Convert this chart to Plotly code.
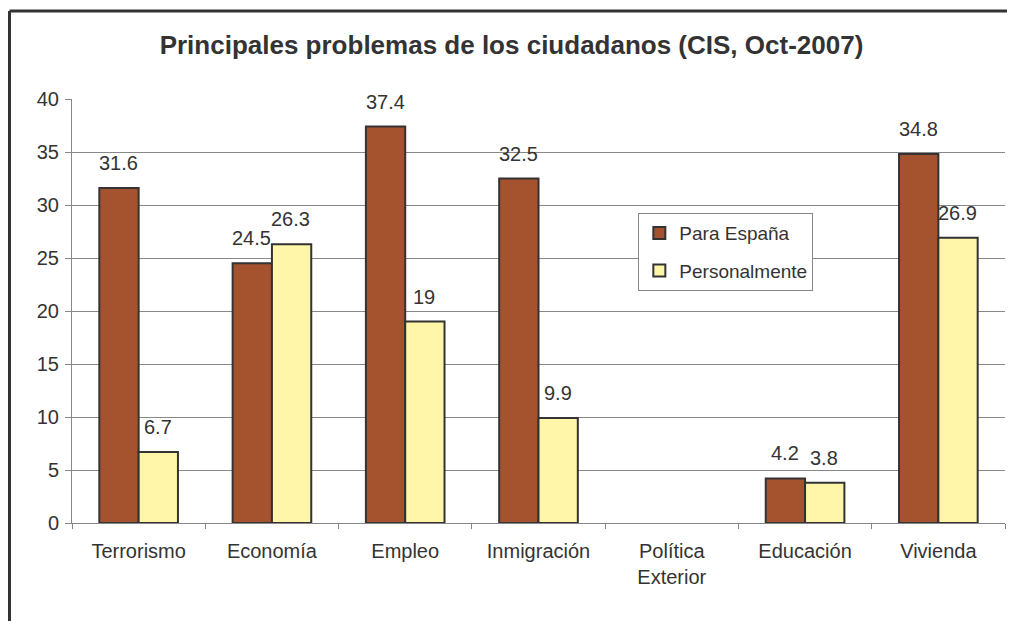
import plotly.graph_objects as go

categorias = ["Terrorismo", "Economía", "Empleo", "Inmigración",
              "Política<br>Exterior", "Educación", "Vivienda"]
para_espana = [31.6, 24.5, 37.4, 32.5, None, 4.2, 34.8]
personalmente = [6.7, 26.3, 19, 9.9, None, 3.8, 26.9]
y_ticks = [0, 5, 10, 15, 20, 25, 30, 35, 40]

fig = go.Figure()
fig.add_trace(go.Bar(
    x=categorias, y=para_espana, name="Para España", legendgroup="a",
    marker=dict(color="#A5522F", line=dict(color="#333333", width=2))
))
fig.add_trace(go.Bar(
    x=categorias, y=personalmente, name="Personalmente", legendgroup="b",
    marker=dict(color="#FFF6AA", line=dict(color="#333333", width=2))
))

# etiquetas de valores encima de las barras (se omiten los vacíos)
anns = []
for serie, dx in ((para_espana, -20), (personalmente, 19)):
    for c, v in zip(categorias, serie):
        if v is None:
            continue
        anns.append(dict(x=c, y=v, text=f"{v:g}", showarrow=False,
                         xshift=dx, yshift=12, yanchor="bottom",
                         font=dict(size=20, color="#333333")))

fig.update_layout(
    width=1007, height=613,
    margin=dict(l=64, r=10, t=91, b=98),
    paper_bgcolor="white", plot_bgcolor="white",
    font=dict(family="Liberation Sans, Arial, sans-serif", size=20, color="#333333"),
    title=dict(text="<b>Principales problemas de los ciudadanos (CIS, Oct-2007)</b>",
               x=0.5, xanchor="center", y=0.94, yanchor="middle",
               font=dict(size=26, color="#333333")),
    barmode="group", bargap=0.41, bargroupgap=0,
    annotations=anns,
    legend=dict(x=0.607, y=0.731, xanchor="left", yanchor="top",
                bgcolor="white", bordercolor="#888888", borderwidth=1,
                font=dict(size=19, color="#333333"), tracegroupgap=10,
                itemwidth=30),
    xaxis=dict(showline=True, linecolor="#888888", linewidth=1,
               ticks="outside", tickson="boundaries", ticklen=5,
               tickcolor="#888888", showgrid=False, ticklabelstandoff=10,
               tickfont=dict(size=20)),
    yaxis=dict(range=[0, 40], tickvals=y_ticks, showline=True,
               linecolor="#888888", linewidth=1, ticks="outside", ticklen=6,
               tickcolor="#888888", gridcolor="#888888", gridwidth=1,
               zeroline=False, tickfont=dict(size=20), ticklabelstandoff=2),
    shapes=[
        dict(type="line", xref="paper", yref="paper",
             x0=-0.067, x1=1.02, y0=1.2075, y1=1.2075,
             line=dict(color="#333333", width=3)),
        dict(type="line", xref="paper", yref="paper",
             x0=-0.067, x1=-0.067, y0=1.2075, y1=-0.25,
             line=dict(color="#333333", width=3)),
    ],
)

fig.write_html("out.html")
